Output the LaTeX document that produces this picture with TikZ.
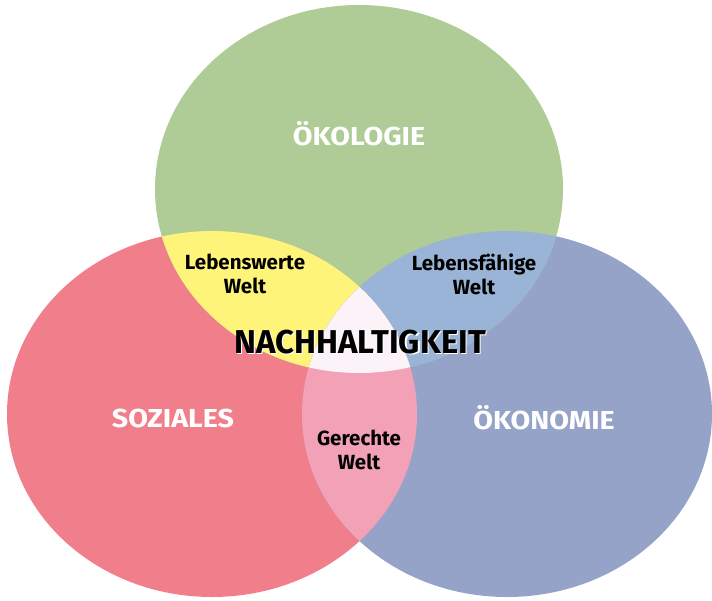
\documentclass[tikz,border=0pt]{standalone}
\usepackage{fontspec}
\setmainfont{Fira Sans}
\definecolor{cgreen}{HTML}{AFCB96}
\definecolor{cred}{HTML}{F07F8B}
\definecolor{cblue}{HTML}{96A3C8}
\definecolor{cyellow}{HTML}{FFF47A}
\definecolor{clblue}{HTML}{99B4D6}
\definecolor{cpink}{HTML}{F2A1B6}
\definecolor{ccenter}{HTML}{FBF3F7}
\begin{document}
\begin{tikzpicture}[x=1pt,y=-1pt,
  big/.style={text=white,font=\bfseries\fontsize{26}{30}\selectfont,inner sep=0pt,xscale=1.1},
  small/.style={text=black,font=\bfseries\fontsize{20.5}{24}\selectfont,align=center,inner sep=0pt},
  title/.style={font=\bfseries\fontsize{33}{36}\selectfont,inner sep=0pt}]
\useasboundingbox (0,0) rectangle (712,600);
\def\ellG{(359,189) ellipse [x radius=204, y radius=184]}
\def\ellR{(212,414) ellipse [x radius=205, y radius=183]}
\def\ellB{(507,414) ellipse [x radius=205, y radius=183]}
\fill[cred] \ellR;
\fill[cblue] \ellB;
\fill[cgreen] \ellG;
\begin{scope}\clip \ellG; \fill[cyellow] \ellR; \end{scope}
\begin{scope}\clip \ellG; \fill[clblue] \ellB; \end{scope}
\begin{scope}\clip \ellR; \fill[cpink] \ellB; \end{scope}
\begin{scope}\clip \ellG; \clip \ellR; \fill[ccenter] \ellB; \end{scope}
\node[big] (oekologie) at (359,134) {ÖKOLOGIE};
\node[big] (soziales) at (173,418) {SOZIALES};
\node[big] (oekonomie) at (544,418) {ÖKONOMIE};
\node[small] (lebenswerte) at (245,274) {Lebenswerte\\Welt};
\node[small] (lebensfaehige) at (474,274) {Lebensfähige\\Welt};
\node[small] (gerechte) at (359,450) {Gerechte\\Welt};
\node[title,text=white] (nachshadow) at (361.5,343.5) {NACHHALTIGKEIT};
\node[title,text=black] (nach) at (360,342) {NACHHALTIGKEIT};
\end{tikzpicture}
\end{document}
